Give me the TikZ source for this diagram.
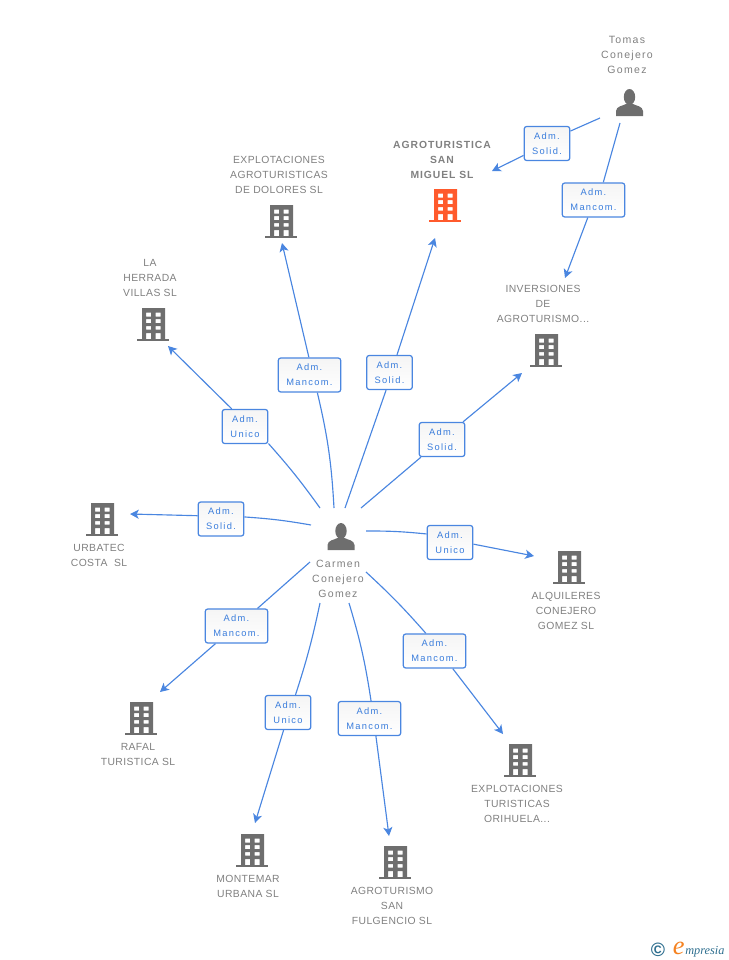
\documentclass[tikz,border=0pt]{standalone}
\usepackage{fontspec}
\setmainfont{Liberation Sans}
\newfontfamily\namefont[LetterSpace=12]{Liberation Sans}
\newfontfamily\capsfont[LetterSpace=4]{Liberation Sans}
\newfontfamily\boldfont[LetterSpace=9]{Liberation Sans Bold}
\newfontfamily\admfont[LetterSpace=14]{Liberation Sans}
\newfontfamily\logofont{Liberation Serif Italic}
\newfontfamily\logomark{Liberation Sans Bold}
\usepackage{tikz}
\usetikzlibrary{arrows.meta}
\definecolor{linkblue}{HTML}{4A86E0}
\definecolor{admblue}{HTML}{3A7DDC}
\definecolor{icongray}{HTML}{6E6E6E}
\definecolor{textgray}{HTML}{808080}
\definecolor{mainorange}{HTML}{FF5A2C}
\definecolor{logoteal}{HTML}{2F6F8F}
\definecolor{logoorange}{HTML}{F58220}
\tikzset{
  link/.style={linkblue, line width=0.65pt},
  arrowlink/.style={link, -{Stealth[length=5pt,width=5.2pt,inset=1.3pt]}},
  admbox/.style={draw=linkblue, line width=0.7pt, rounded corners=1.5pt, top color=black!4, bottom color=white,
    text=admblue, font=\admfont\fontsize{5.3}{8.5}\selectfont, align=center, minimum height=19.4pt, inner sep=0pt},
  admshort/.style={admbox, minimum width=26pt},
  admlong/.style={admbox, minimum width=35.6pt},
  companytext/.style={text=textgray, font=\capsfont\fontsize{5.9}{8.5}\selectfont, align=center, inner sep=0pt},
  persontext/.style={text=textgray, font=\namefont\fontsize{6}{8.5}\selectfont, align=center, inner sep=0pt},
  building/.pic={
    \path[pic actions, even odd rule] (-11,16) rectangle (12,-15)
      (-7,11.5) rectangle (-2,7.5) (2.7,11.5) rectangle (7.7,7.5)
      (-7,5) rectangle (-2,1) (2.7,5) rectangle (7.7,1)
      (-7,-2) rectangle (-2,-5.5) (2.7,-2) rectangle (7.7,-5.5)
      (-7,-9) rectangle (-2,-15) (2.7,-9) rectangle (7.7,-15);
    \path[pic actions] (-16,-15) rectangle (16,-17);
  },
  person/.pic={
    \path[pic actions] (0,6) ellipse (5.7 and 8);
    \path[pic actions] (-13.5,-13) -- (-13.5,-8) .. controls (-13,-3) and (-7,-3) .. (-3.5,-1)
      -- (3.5,-1) .. controls (7,-3) and (13,-3) .. (13.5,-8) -- (13.5,-13) -- cycle;
  }
}
\begin{document}
\begin{tikzpicture}[x=0.02cm, y=0.02cm]
\useasboundingbox (0,0) rectangle (728,-960);
%icons
\pic[fill=icongray] at (341,-537) {person};
\pic[fill=icongray] at (629.5,-103) {person};
\pic[fill=mainorange] at (445,-205) {building};
\pic[fill=icongray] at (281,-221) {building};
\pic[fill=icongray] at (153,-324) {building};
\pic[fill=icongray] at (546,-350) {building};
\pic[fill=icongray] at (102,-519) {building};
\pic[fill=icongray] at (569,-567) {building};
\pic[fill=icongray] at (141,-718) {building};
\pic[fill=icongray] at (252,-850) {building};
\pic[fill=icongray] at (395,-862) {building};
\pic[fill=icongray] at (520,-760) {building};
%names
\node [persontext] (carmen) at (338,-579) {Carmen\\Conejero\\Gomez};
\node [persontext] (tomas) at (627,-55) {Tomas\\Conejero\\Gomez};
\node [text=textgray, font=\boldfont\fontsize{5.9}{8.5}\selectfont, align=center, inner sep=0pt] (sanmiguel) at (442,-160) {AGROTURISTICA\\SAN\\MIGUEL SL};
\node [companytext] (dolores) at (279,-175) {EXPLOTACIONES\\AGROTURISTICAS\\DE DOLORES SL};
\node [companytext] (herrada) at (150,-278) {LA\\HERRADA\\VILLAS SL};
\node [companytext] (inversiones) at (543,-304) {INVERSIONES\\DE\\AGROTURISMO...};
\node [companytext] (urbatec) at (99,-555.5) {URBATEC\\COSTA\ \ SL};
\node [companytext] (alquileres) at (566,-611) {ALQUILERES\\CONEJERO\\GOMEZ SL};
\node [companytext] (rafal) at (138,-754.5) {RAFAL\\TURISTICA SL};
\node [companytext] (montemar) at (248,-886.5) {MONTEMAR\\URBANA SL};
\node [companytext] (fulgencio) at (392,-906) {AGROTURISMO\\SAN\\FULGENCIO SL};
\node [companytext] (orihuela) at (517,-804) {EXPLOTACIONES\\TURISTICAS\\ORIHUELA...};
%boxes
\node [admshort] (tomassolid) at (547,-143.5) {Adm.\\Solid.};
\node [admlong] (tomasmancom) at (593.5,-200) {Adm.\\Mancom.};
\node [admlong] (doloresmancom) at (309.5,-375) {Adm.\\Mancom.};
\node [admshort] (sanmiguelsolid) at (389.5,-372.5) {Adm.\\Solid.};
\node [admshort] (herradaunico) at (245,-426.5) {Adm.\\Unico};
\node [admshort] (inversionessolid) at (442,-439.5) {Adm.\\Solid.};
\node [admshort] (urbatecsolid) at (221,-519) {Adm.\\Solid.};
\node [admshort] (alquileresunico) at (450,-542.5) {Adm.\\Unico};
\node [admlong] (rafalmancom) at (236.5,-626) {Adm.\\Mancom.};
\node [admshort] (montemarunico) at (288,-712.5) {Adm.\\Unico};
\node [admlong] (fulgenciomancom) at (369.5,-718.5) {Adm.\\Mancom.};
\node [admlong] (orihuelamancom) at (434.5,-651) {Adm.\\Mancom.};
%line ends
\coordinate (fromtomasa) at (600,-118);
\coordinate (fromtomasb) at (620,-123);
\coordinate (fromcarmena) at (334,-508);
\coordinate (fromcarmenb) at (345,-508);
\coordinate (fromcarmenc) at (320,-508);
\coordinate (fromcarmend) at (361,-508);
\coordinate (fromcarmene) at (311,-525);
\coordinate (fromcarmenf) at (366,-531);
\coordinate (fromcarmeng) at (310,-562);
\coordinate (fromcarmenh) at (320,-603);
\coordinate (fromcarmeni) at (349,-603);
\coordinate (fromcarmenj) at (366,-572);
\coordinate (tosanmiguela) at (492,-171);
\coordinate (toinversionesa) at (565,-278);
\coordinate (todolores) at (282,-243);
\coordinate (tosanmiguelb) at (435,-238);
\coordinate (toherrada) at (168,-346);
\coordinate (toinversionesb) at (522,-373);
\coordinate (tourbatec) at (130,-514);
\coordinate (toalquileres) at (534,-556);
\coordinate (torafal) at (160,-692);
\coordinate (tomontemar) at (255,-823);
\coordinate (tofulgencio) at (389,-836);
\coordinate (toorihuela) at (503,-734);
%lines
\draw [link] (fromtomasa) to (tomassolid.28);
\draw [arrowlink] (tomassolid.-153) to (tosanmiguela);
\draw [link] (fromtomasb) to (tomasmancom.61);
\draw [arrowlink] (tomasmancom.-108) to (toinversionesa);
\draw [link] (fromcarmena) to[bend right=5] (doloresmancom.-66);
\draw [arrowlink] (doloresmancom.92) to (todolores);
\draw [link] (fromcarmenb) to (sanmiguelsolid.-101);
\draw [arrowlink] (sanmiguelsolid.67) to (tosanmiguelb);
\draw [link] (fromcarmenc) to[bend right=3] (herradaunico.-36);
\draw [arrowlink] (herradaunico.127) to (toherrada);
\draw [link] (fromcarmend) to (inversionessolid.-140);
\draw [arrowlink] (inversionessolid.40) to (toinversionesb);
\draw [link] (fromcarmene) to[bend right=3] (urbatecsolid.5);
\draw [arrowlink] (urbatecsolid.172) to (tourbatec);
\draw [link] (fromcarmenf) to[bend left=3] (alquileresunico.160);
\draw [arrowlink] (alquileresunico.-4) to (toalquileres);
\draw [link] (fromcarmeng) to (rafalmancom.40);
\draw [arrowlink] (rafalmancom.-140) to (torafal);
\draw [link] (fromcarmenh) to[bend left=3] (montemarunico.67);
\draw [arrowlink] (montemarunico.-104) to (tomontemar);
\draw [link] (fromcarmeni) to[bend left=4] (fulgenciomancom.85);
\draw [arrowlink] (fulgenciomancom.-70) to (tofulgencio);
\draw [link] (fromcarmenj) to[bend left=3] (orihuelamancom.116);
\draw [arrowlink] (orihuelamancom.-44) to (toorihuela);
%logo
\node [text=logoteal, font=\logofont\fontsize{7}{9}\selectfont, anchor=base west, inner sep=0pt] (logotext) at (685,-954) {mpresia};
\node [text=logoorange, font=\logofont\fontsize{15}{15}\selectfont, anchor=base east, inner sep=0pt] (logoe) at (logotext.base west) {e};
\node [text=logoteal, font=\logomark\fontsize{11}{11}\selectfont, inner sep=0pt] (logoc) at (658,-949.5) {©};
\end{tikzpicture}
\end{document}
